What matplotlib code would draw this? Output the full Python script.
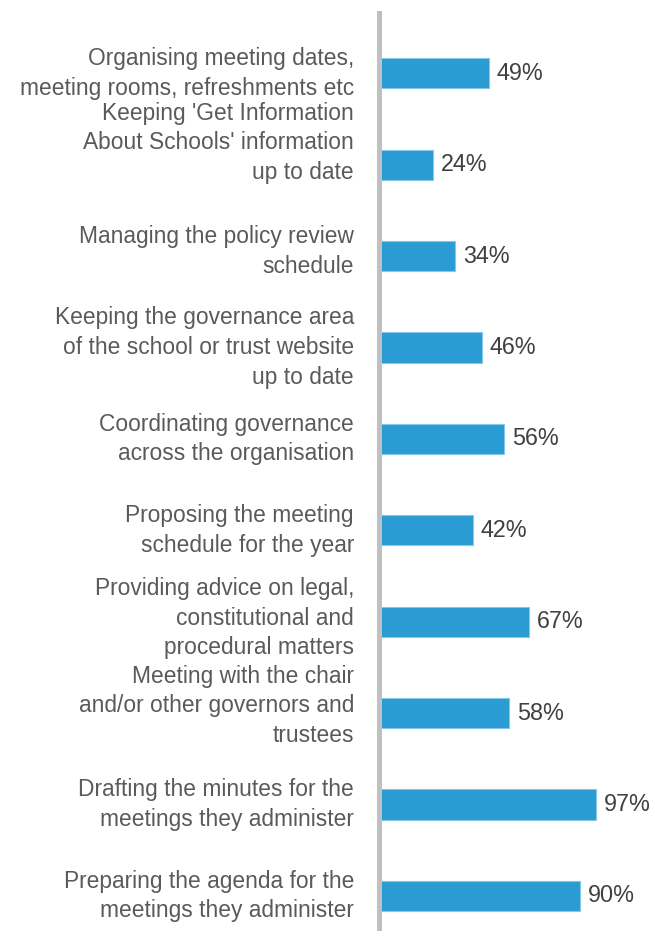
import matplotlib.pyplot as plt
from matplotlib import transforms

tasks = [
    "Organising meeting dates,\nmeeting rooms, refreshments etc",
    "Keeping 'Get Information\nAbout Schools' information\nup to date",
    "Managing the policy review\nschedule",
    "Keeping the governance area\nof the school or trust website\nup to date",
    "Coordinating governance\nacross the organisation",
    "Proposing the meeting\nschedule for the year",
    "Providing advice on legal,\nconstitutional and\nprocedural matters",
    "Meeting with the chair\nand/or other governors and\ntrustees",
    "Drafting the minutes for the\nmeetings they administer",
    "Preparing the agenda for the\nmeetings they administer",
]
shares = [49, 24, 34, 46, 56, 42, 67, 58, 97, 90]

# small vertical nudges for the wrapped labels (in bar units)
label_shift = [0, -0.24, -0.05, 0, 0, 0, -0.04, -0.08, 0, 0]

plt.rcParams["font.family"] = ["Liberation Sans", "DejaVu Sans"]

fig = plt.figure(figsize=(6.55, 9.38), dpi=100)
ax = fig.add_axes([0.5786, 0.0107, 0.4214, 0.9755])

pos = list(range(len(tasks)))
ax.barh(pos, shares, height=0.33, color="#2a9bd3", edgecolor="#86c8ea",
        linewidth=0.8, zorder=2)

for i, v in enumerate(shares):
    ax.text(v + 3.6, i, f"{v}%", ha="left", va="center", fontsize=16.8,
            color="#404040")

# labels sit a fixed distance left of the axis line
lab_tr = transforms.offset_copy(ax.transData, fig=fig, x=-25, y=0, units="dots")
for i, (t, s) in enumerate(zip(tasks, label_shift)):
    ax.text(0, i + s, t, ha="right", va="center", fontsize=16.4,
            color="#5a5a5a", linespacing=1.37, transform=lab_tr, clip_on=False)

ax.set_xlim(0, 123.4)
ax.set_ylim(9.35, -0.66)
ax.set_xticks([])
ax.set_yticks([])
for side in ["top", "right", "bottom"]:
    ax.spines[side].set_visible(False)
ax.spines["left"].set_color("#c0c0c0")
ax.spines["left"].set_linewidth(3.6)
ax.spines["left"].set_zorder(3)

fig.savefig("out.png", dpi=100)
